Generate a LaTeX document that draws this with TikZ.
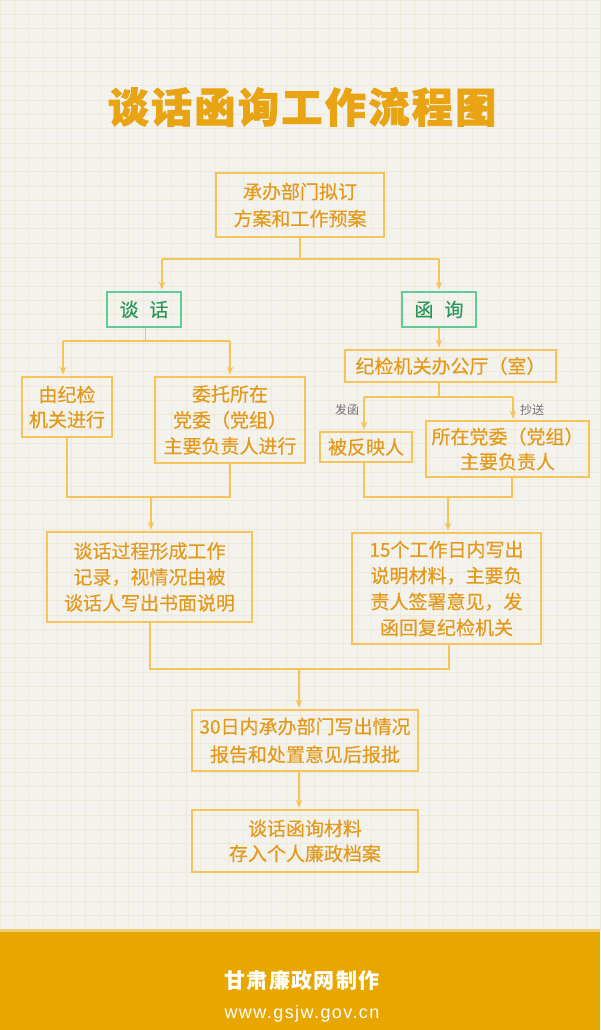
\documentclass[tikz,border=0pt]{standalone}
\usepackage{fontspec}
\newfontfamily\cjk{Noto Sans CJK SC}
\newfontfamily\lat{Liberation Sans}
\usetikzlibrary{arrows.meta}
\definecolor{bg}{HTML}{F4F2ED}
\definecolor{gridc}{HTML}{EEE8D9}
\definecolor{boxc}{HTML}{F7C45A}
\definecolor{txtc}{HTML}{E3991A}
\definecolor{grnb}{HTML}{5FCB99}
\definecolor{grnt}{HTML}{28985A}
\definecolor{lnc}{HTML}{F7C45A}
\definecolor{foot}{HTML}{E8A600}
\definecolor{titc}{HTML}{E8A412}
\definecolor{lblc}{HTML}{707070}
\begin{document}
\begin{tikzpicture}[x=1pt,y=-1pt,
  box/.style={draw=boxc,line width=1.8pt,text=txtc,
    font=\cjk\fontsize{19}{26}\selectfont\addfontfeature{FakeBold=0.4},align=center,inner sep=0pt},
  gbox/.style={draw=grnb,line width=1.8pt,text=grnt,
    font=\cjk\fontsize{19}{22}\selectfont\addfontfeature{FakeBold=0.4},inner sep=0pt,
    minimum width=74pt,minimum height=35pt},
  ln/.style={draw=lnc,line width=1.5pt},
  arr/.style={ln,-{Stealth[length=8pt,width=6.5pt,inset=2.5pt]},shorten >=1.5pt},
  lbl/.style={text=lblc,font=\cjk\fontsize{12}{12}\selectfont,inner sep=0pt}]
\useasboundingbox (0,0) rectangle (600,1030);
\fill[bg] (0,0) rectangle (600,1030);
\foreach \i in {0,...,42} \draw[gridc,line width=0.8pt] ({\i*14.3},0) -- ({\i*14.3},931);
\foreach \i in {0,...,65} \draw[gridc,line width=0.8pt] (0,{\i*14.3}) -- (600,{\i*14.3});
\fill[foot!55!white] (0,929) rectangle (600,933);
\fill[foot] (0,932) rectangle (600,1030);

% title
\node[font=\cjk\bfseries\fontsize{41}{41}\selectfont\addfontfeature{LetterSpace=6,FakeBold=2},text=titc] (title) at (302,107) {谈话函询工作流程图};

% boxes
\node[box,minimum width=168pt,minimum height=64pt,font=\cjk\fontsize{19}{27}\selectfont\addfontfeature{FakeBold=0.4}] (plan) at (300,205) {承办部门拟订\\方案和工作预案};
\node[gbox] (tanhua) at (144,309.5) {谈\hspace{11pt}话};
\node[gbox] (hanxun) at (439,309.5) {函\hspace{11pt}询};
\node[box,minimum width=90pt,minimum height=60pt,font=\cjk\fontsize{19}{25}\selectfont\addfontfeature{FakeBold=0.4}] (byjw) at (67,407) {由纪检\\机关进行};
\node[box,minimum width=150pt,minimum height=86pt] (wt) at (230,420) {委托所在\\党委（党组）\\主要负责人进行};
\node[box,minimum width=211pt,minimum height=32pt] (office) at (450.5,366) {纪检机关办公厅（室）};
\node[box,minimum width=92pt,minimum height=30pt] (bfy) at (366,447) {被反映人};
\node[box,minimum width=163pt,minimum height=56pt,font=\cjk\fontsize{19}{25}\selectfont\addfontfeature{FakeBold=0.4}] (dw) at (507.5,449) {所在党委（党组）\\主要负责人};
\node[box,minimum width=205pt,minimum height=90pt] (rec) at (149.5,577) {谈话过程形成工作\\记录，视情况由被\\谈话人写出书面说明};
\node[box,minimum width=189pt,minimum height=111pt] (reply) at (446.5,588.5) {15个工作日内写出\\说明材料，主要负\\责人签署意见，发\\函回复纪检机关};
\node[box,minimum width=226pt,minimum height=61pt,font=\cjk\fontsize{19}{28}\selectfont\addfontfeature{FakeBold=0.4}] (rep30) at (305,740.5) {30日内承办部门写出情况\\报告和处置意见后报批};
\node[box,minimum width=226pt,minimum height=62pt,font=\cjk\fontsize{19}{25}\selectfont\addfontfeature{FakeBold=0.4}] (archive) at (305,841) {谈话函询材料\\存入个人廉政档案};

% connectors: top split
\coordinate (s1) at (300,259);
\coordinate (s1l) at (162,259);
\coordinate (s1r) at (439,259);
\draw[ln] (plan.south) -- (s1);
\draw[ln] (s1l) -- (s1r);
\draw[arr] (s1l) -- (s1l |- tanhua.north);
\draw[arr] (s1r) -- (s1r |- hanxun.north);

% left branch
\coordinate (s2) at (145.5,341);
\coordinate (s2l) at (63,341);
\coordinate (s2r) at (230,341);
\draw[ln] (s2 |- tanhua.south) -- (s2);
\draw[ln] (s2l) -- (s2r);
\draw[arr] (s2l) -- (s2l |- byjw.north);
\draw[arr] (s2r) -- (s2r |- wt.north);
\coordinate (m1l) at (67,497);
\coordinate (m1r) at (230,497);
\coordinate (m1) at (151,497);
\draw[ln] (m1l |- byjw.south) -- (m1l) -- (m1r) -- (m1r |- wt.south);
\draw[arr] (m1) -- (m1 |- rec.north);

% right branch
\draw[arr] (hanxun.south) -- (hanxun.south |- office.north);
\coordinate (s3) at (439,397);
\coordinate (s3l) at (364,397);
\coordinate (s3r) at (513,397);
\draw[ln] (s3 |- office.south) -- (s3);
\draw[ln] (s3l) -- (s3r);
\draw[arr] (s3l) -- (s3l |- bfy.north);
\draw[arr] (s3r) -- (s3r |- dw.north);
\node[lbl] (fh) at (347,410) {发函};
\node[lbl] (cs) at (532,410) {抄送};
\coordinate (m2l) at (364,497);
\coordinate (m2r) at (512,497);
\coordinate (m2) at (448,497);
\draw[ln] (m2l |- bfy.south) -- (m2l) -- (m2r) -- (m2r |- dw.south);
\draw[arr] (m2) -- (m2 |- reply.north);

% merge
\coordinate (m3l) at (150,669);
\coordinate (m3r) at (449,669);
\coordinate (m3) at (299,669);
\draw[ln] (m3l |- rec.south) -- (m3l) -- (m3r) -- (m3r |- reply.south);
\draw[arr] (m3) -- (m3 |- rep30.north);
\coordinate (m4) at (299,771);
\draw[arr] (m4 |- rep30.south) -- (m4 |- archive.north);

% footer
\node[text=white,font=\cjk\bfseries\fontsize{21}{21}\selectfont\addfontfeature{LetterSpace=6}] (maker) at (302,981) {甘肃廉政网制作};
\node[text=white,font=\lat\fontsize{18}{18}\selectfont\addfontfeature{LetterSpace=8}] (url) at (302,1014) {www.gsjw.gov.cn};
\end{tikzpicture}
\end{document}
